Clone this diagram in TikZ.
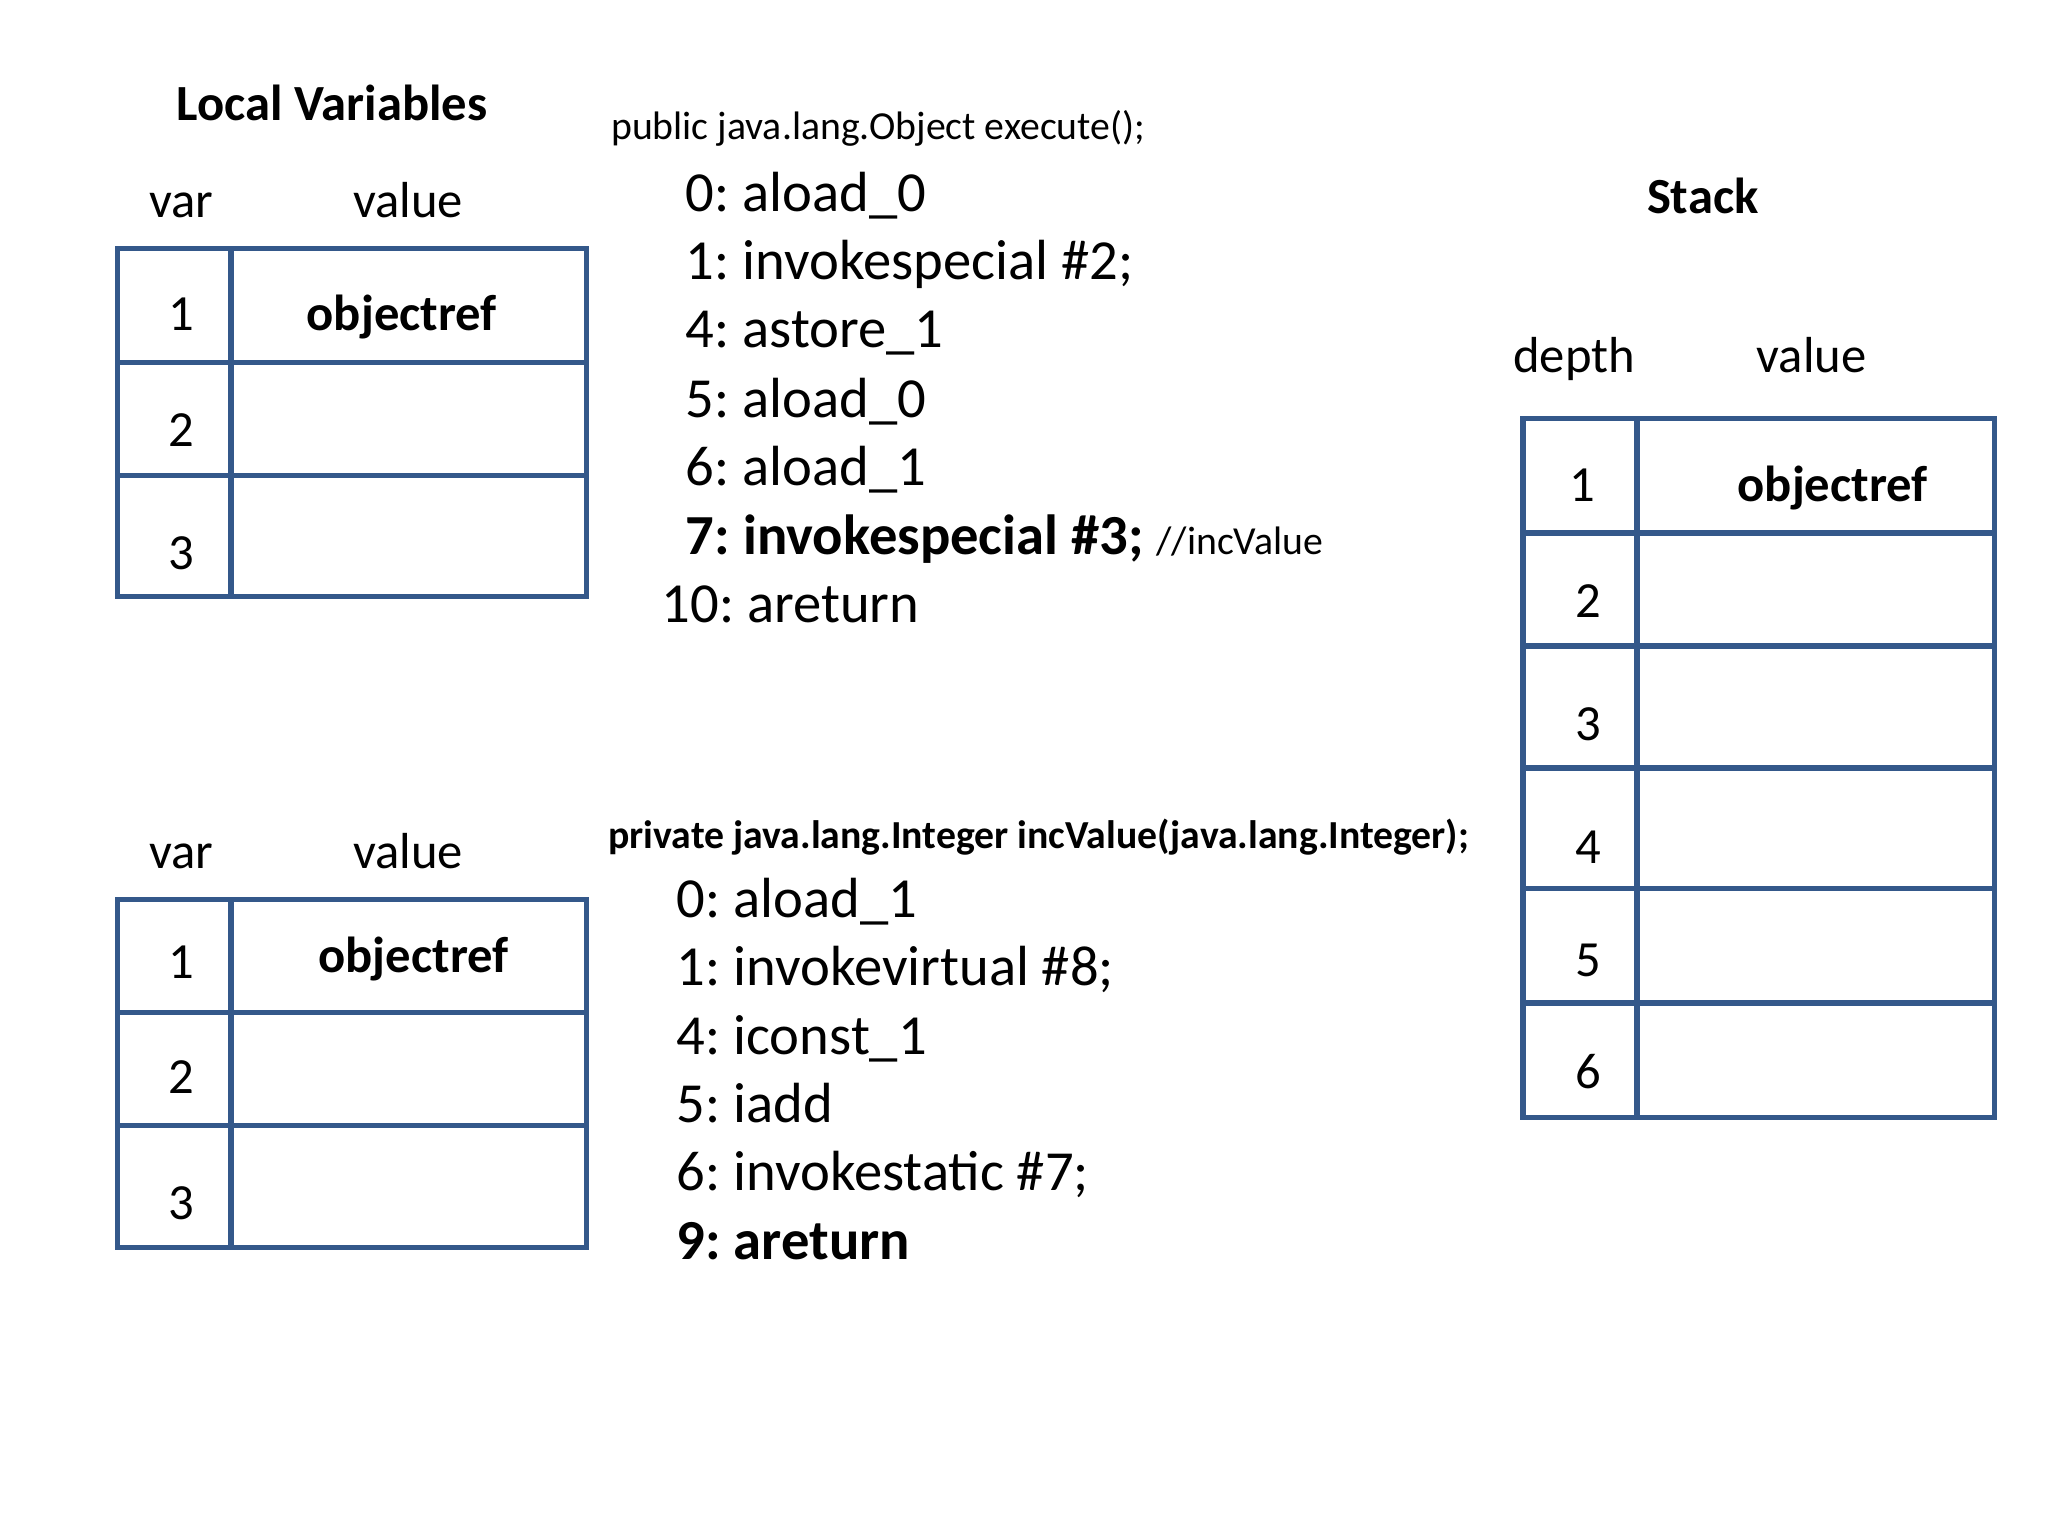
\documentclass[tikz,border=0pt]{standalone}
\usepackage{fontspec}
\setmainfont{Carlito}
\frenchspacing
\definecolor{tblue}{HTML}{34588A}
\tikzset{
  gridline/.style={draw=tblue, line width=1.5pt},
  lbl/.style={anchor=base, inner sep=0pt, font=\fontsize{14.4}{17}\selectfont},
  code/.style={anchor=base west, inner sep=0pt, font=\fontsize{16.1}{19}\selectfont},
  sig/.style={anchor=base west, inner sep=0pt, font=\fontsize{11.3}{13.5}\selectfont}
}
\begin{document}
\begin{tikzpicture}[x=0.013128cm, y=-0.013128cm]
\useasboundingbox (0,0) rectangle (1560,1170);
% local variables, execute()
\node[lbl, font=\fontsize{14.4}{17}\selectfont\bfseries] (lvtitle) at (253,92) {Local Variables};
\node[lbl] (lvvar) at (138,166) {var};
\node[lbl] (lvval) at (311,166) {value};
\draw[gridline] (89.5,189.5) rectangle (447,454.5);
\draw[gridline] (89.5,276) -- (447,276);
\draw[gridline] (89.5,362) -- (447,362);
\draw[gridline] (176,189.5) -- (176,454.5);
\node[lbl] (lva) at (138,252) {1};
\node[lbl] (lvb) at (138,340) {2};
\node[lbl] (lvc) at (138,434) {3};
\node[lbl, font=\fontsize{14.4}{17}\selectfont\bfseries] (lvref) at (306,252) {objectref};
% local variables, incValue()
\node[lbl] (ivvar) at (138,661.5) {var};
\node[lbl] (ivval) at (311,661.5) {value};
\draw[gridline] (89.5,685) rectangle (447,950);
\draw[gridline] (89.5,771.5) -- (447,771.5);
\draw[gridline] (89.5,857.5) -- (447,857.5);
\draw[gridline] (176,685) -- (176,950);
\node[lbl] (iva) at (138,745) {1};
\node[lbl] (ivb) at (138,833) {2};
\node[lbl] (ivc) at (138,929) {3};
\node[lbl, font=\fontsize{14.4}{17}\selectfont\bfseries] (ivref) at (315,741) {objectref};
% bytecode
\node[sig] (exsig) at (465,106) {public java.lang.Object execute();};
\node[code] (ex0) at (522,161) {0: aload\_0};
\node[code] (ex1) at (522,213) {1: invokespecial \#2;};
\node[code] (ex4) at (522,265) {4: astore\_1};
\node[code] (ex5) at (522,318) {5: aload\_0};
\node[code] (ex6) at (522,370) {6: aload\_1};
\node[code] (ex7) at (522,422) {\textbf{7: invokespecial \#3;} {\fontsize{11.3}{13.5}\selectfont //incValue}};
\node[code] (ex10) at (503.5,474) {10: areturn};
\node[sig, font=\fontsize{11.3}{13.5}\selectfont\bfseries] (incsig) at (463,646) {private java.lang.Integer incValue(java.lang.Integer);};
\node[code] (inc0) at (515,699) {0: aload\_1};
\node[code] (inc1) at (515,751) {1: invokevirtual \#8;};
\node[code] (inc4) at (515,803) {4: iconst\_1};
\node[code] (inc5) at (515,855) {5: iadd};
\node[code] (inc6) at (515,907) {6: invokestatic \#7;};
\node[code, font=\fontsize{16.1}{19}\selectfont\bfseries] (inc9) at (515,959) {9: areturn};
% operand stack
\node[lbl, font=\fontsize{14.4}{17}\selectfont\bfseries] (sttitle) at (1297,163) {Stack};
\node[lbl] (stdepth) at (1199,284) {depth};
\node[lbl] (stval) at (1380,284) {value};
\draw[gridline] (1160,319) rectangle (1519,851);
\draw[gridline] (1160,406) -- (1519,406);
\draw[gridline] (1160,492) -- (1519,492);
\draw[gridline] (1160,585) -- (1519,585);
\draw[gridline] (1160,677) -- (1519,677);
\draw[gridline] (1160,764) -- (1519,764);
\draw[gridline] (1247,319) -- (1247,851);
\node[lbl] (sta) at (1205,382) {1};
\node[lbl] (stb) at (1210,470) {2};
\node[lbl] (stc) at (1210,564) {3};
\node[lbl] (std) at (1210,658) {4};
\node[lbl] (ste) at (1210,744) {5};
\node[lbl] (stf) at (1210,829) {6};
\node[lbl, font=\fontsize{14.4}{17}\selectfont\bfseries] (stref) at (1396,382) {objectref};
\end{tikzpicture}
\end{document}
